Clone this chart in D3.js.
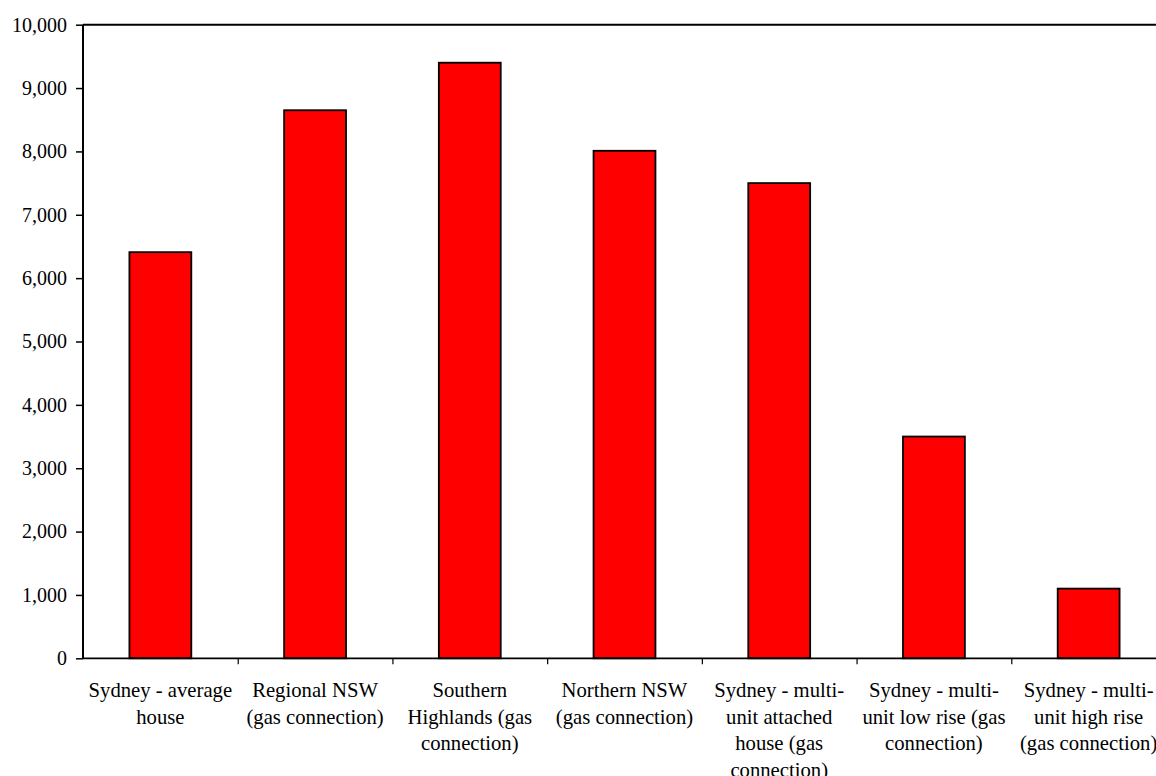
<!DOCTYPE html>
<html>
<head>
<meta charset="utf-8">
<script src="https://cdn.jsdelivr.net/npm/d3@7"></script>
<style>
  html, body { margin: 0; padding: 0; background: #fff; }
  svg { display: block; }
  svg text { font-family: "Liberation Serif", "Times New Roman", Tinos, serif; fill: #000; }
</style>
</head>
<body>
<svg id="chart" width="1156" height="776"></svg>
<script>
// Categories, each given as the lines of its wrapped label
const categories = [
  ["Sydney - average", "house"],
  ["Regional NSW", "(gas connection)"],
  ["Southern", "Highlands (gas", "connection)"],
  ["Northern NSW", "(gas connection)"],
  ["Sydney - multi-", "unit attached", "house (gas", "connection)"],
  ["Sydney - multi-", "unit low rise (gas", "connection)"],
  ["Sydney - multi-", "unit high rise", "(gas connection)"]
];
const values = [6410, 8650, 9400, 8010, 7500, 3500, 1100];
const yTicks = [0, 1000, 2000, 3000, 4000, 5000, 6000, 7000, 8000, 9000, 10000];

const svg = d3.select("#chart");
const plotLeft = 83, plotRight = 1166, plotTop = 24.7, plotBottom = 658.3;
const keys = categories.map((c, i) => i);

const x = d3.scaleBand().domain(keys).range([plotLeft, plotRight])
  .paddingInner(0.6).paddingOuter(0.3);
const slots = d3.scaleLinear().domain([0, categories.length]).range([plotLeft, plotRight]);
const y = d3.scaleLinear().domain([0, 10000]).range([plotBottom, plotTop]);

// Plot frame top edge
svg.append("line")
  .attr("x1", plotLeft).attr("x2", plotRight)
  .attr("y1", y(10000)).attr("y2", y(10000))
  .attr("stroke", "#000").attr("stroke-width", 2);

// Bars
svg.append("g").selectAll("rect").data(values).join("rect")
  .attr("x", (d, i) => x(i))
  .attr("y", d => y(d))
  .attr("width", x.bandwidth())
  .attr("height", d => y(0) - y(d))
  .attr("fill", "#ff0000")
  .attr("stroke", "#000")
  .attr("stroke-width", 1.8);

// Y axis
const yAxis = svg.append("g")
  .attr("transform", `translate(${plotLeft},0)`)
  .call(d3.axisLeft(y).tickValues(yTicks).tickFormat(d3.format(",")).tickSize(7).tickPadding(9));
yAxis.select(".domain").attr("stroke-width", 2).attr("d", `M0,${plotBottom}V${plotTop}`);
yAxis.selectAll(".tick line").attr("stroke-width", 1.5);
yAxis.selectAll("text").style("font-size", "20px");

// X axis with ticks on category boundaries
const xAxis = svg.append("g")
  .attr("transform", `translate(0,${plotBottom})`)
  .call(d3.axisBottom(slots).tickValues(d3.range(1, categories.length + 1))
    .tickSize(6).tickFormat(""));
xAxis.select(".domain").attr("stroke-width", 1.8).attr("d", `M${plotLeft},0H${plotRight}`);
xAxis.selectAll(".tick line").attr("stroke-width", 1.2);

// Category labels
const lbl = svg.append("g").attr("text-anchor", "middle");
categories.forEach((lines, i) => {
  const cx = x(i) + x.bandwidth() / 2;
  const t = lbl.append("text").attr("x", cx).attr("y", 697).style("font-size", "20.7px");
  lines.forEach((s, j) => {
    t.append("tspan").attr("x", cx).attr("dy", j === 0 ? 0 : 26.6).text(s);
  });
});
</script>
</body>
</html>
